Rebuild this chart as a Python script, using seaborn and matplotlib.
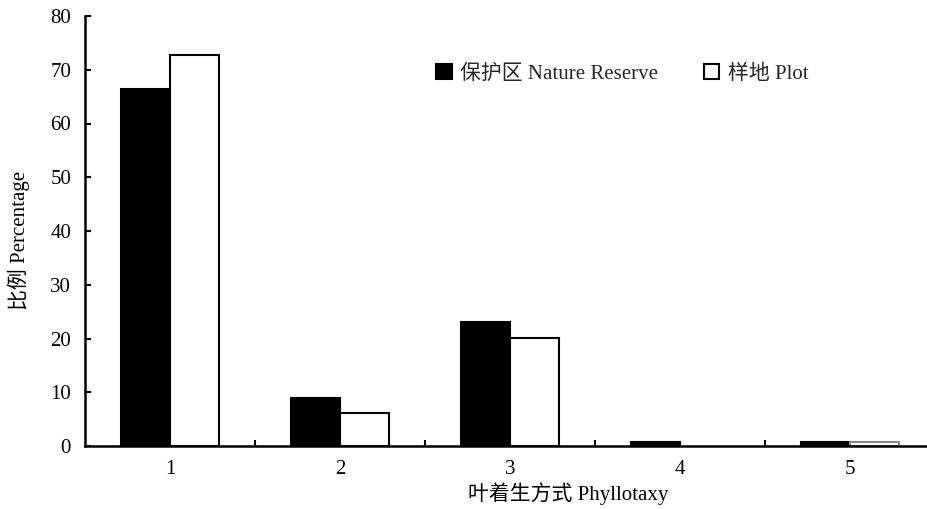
import matplotlib
matplotlib.use("Agg")
import matplotlib.pyplot as plt
from matplotlib.patches import Patch
from matplotlib.ticker import FixedLocator
import seaborn as sns
import pandas as pd

categories = ["1", "2", "3", "4", "5"]
reserve = [66.4, 8.9, 23.1, 0.7, 0.7]
plot_site = [72.7, 6.1, 20.1, 0.0, 0.7]
series_names = ["保护区 Nature Reserve", "样地 Plot"]
y_ticks = [0, 10, 20, 30, 40, 50, 60, 70, 80]

df = pd.DataFrame({
    "cat": categories * 2,
    "value": reserve + plot_site,
    "group": [series_names[0]] * len(categories) + [series_names[1]] * len(categories),
})

sns.set_theme(style="ticks")
plt.rcParams["font.family"] = ["Liberation Serif", "Noto Sans CJK SC"]
plt.rcParams["axes.unicode_minus"] = False

FS = 15
fig = plt.figure(figsize=(9.28, 5.09), dpi=100)
ax = fig.add_axes([85 / 928, 1 - 446 / 509, (928 - 85) / 928, (446 - 16) / 509])

sns.barplot(data=df, x="cat", y="value", hue="group", hue_order=series_names,
            palette=["black", "white"], width=0.58, gap=0, edgecolor="black",
            linewidth=1.5, legend=False, ax=ax)

# zero-height bars leave no outline; the tiny last Plot bar has a grey outline
n = len(categories)
for i, bar in enumerate(ax.patches[:2 * n]):
    if bar.get_height() == 0:
        bar.set_linewidth(0)
ax.patches[2 * n - 1].set_edgecolor("#888888")

ax.set_xlim(-0.5, (928 - 85) / 170 - 0.5)
ax.set_ylim(0, 80)
ax.set_yticks(y_ticks)
ax.set_yticklabels([str(t) for t in y_ticks], fontsize=FS)
ax.tick_params(axis="y", direction="in", length=4, width=1.5, pad=10, colors="black")
ax.tick_params(axis="x", which="major", length=0, pad=10, labelsize=FS, colors="black")
ax.xaxis.set_minor_locator(FixedLocator([0.5, 1.5, 2.5, 3.5]))
ax.tick_params(axis="x", which="minor", direction="in", length=4, width=1.5, colors="black")

for side in ["top", "right"]:
    ax.spines[side].set_visible(False)
for side in ["left", "bottom"]:
    ax.spines[side].set_linewidth(1.8)
    ax.spines[side].set_color("black")

ax.set_xlabel("叶着生方式 Phyllotaxy", fontsize=FS, color="black")
ax.set_ylabel("比例 Percentage", fontsize=FS, color="black")
ax.xaxis.set_label_coords((568 - 85) / (928 - 85), -(482 - 446) / 430)
ax.yaxis.set_label_coords(-(85 - 30) / (928 - 85), (446 - 240) / 430)

handles = [Patch(facecolor="black", edgecolor="black", linewidth=1.5),
           Patch(facecolor="white", edgecolor="black", linewidth=1.5)]
ax.legend(handles, series_names, ncol=2, frameon=False, fontsize=FS,
          handlelength=0.75, handleheight=0.75, handletextpad=0.4, columnspacing=2.2,
          loc="center left", borderpad=0, borderaxespad=0,
          bbox_to_anchor=((436 - 85) / (928 - 85), (446 - 74) / 430))

fig.savefig("out.png", dpi=100, facecolor="white")
